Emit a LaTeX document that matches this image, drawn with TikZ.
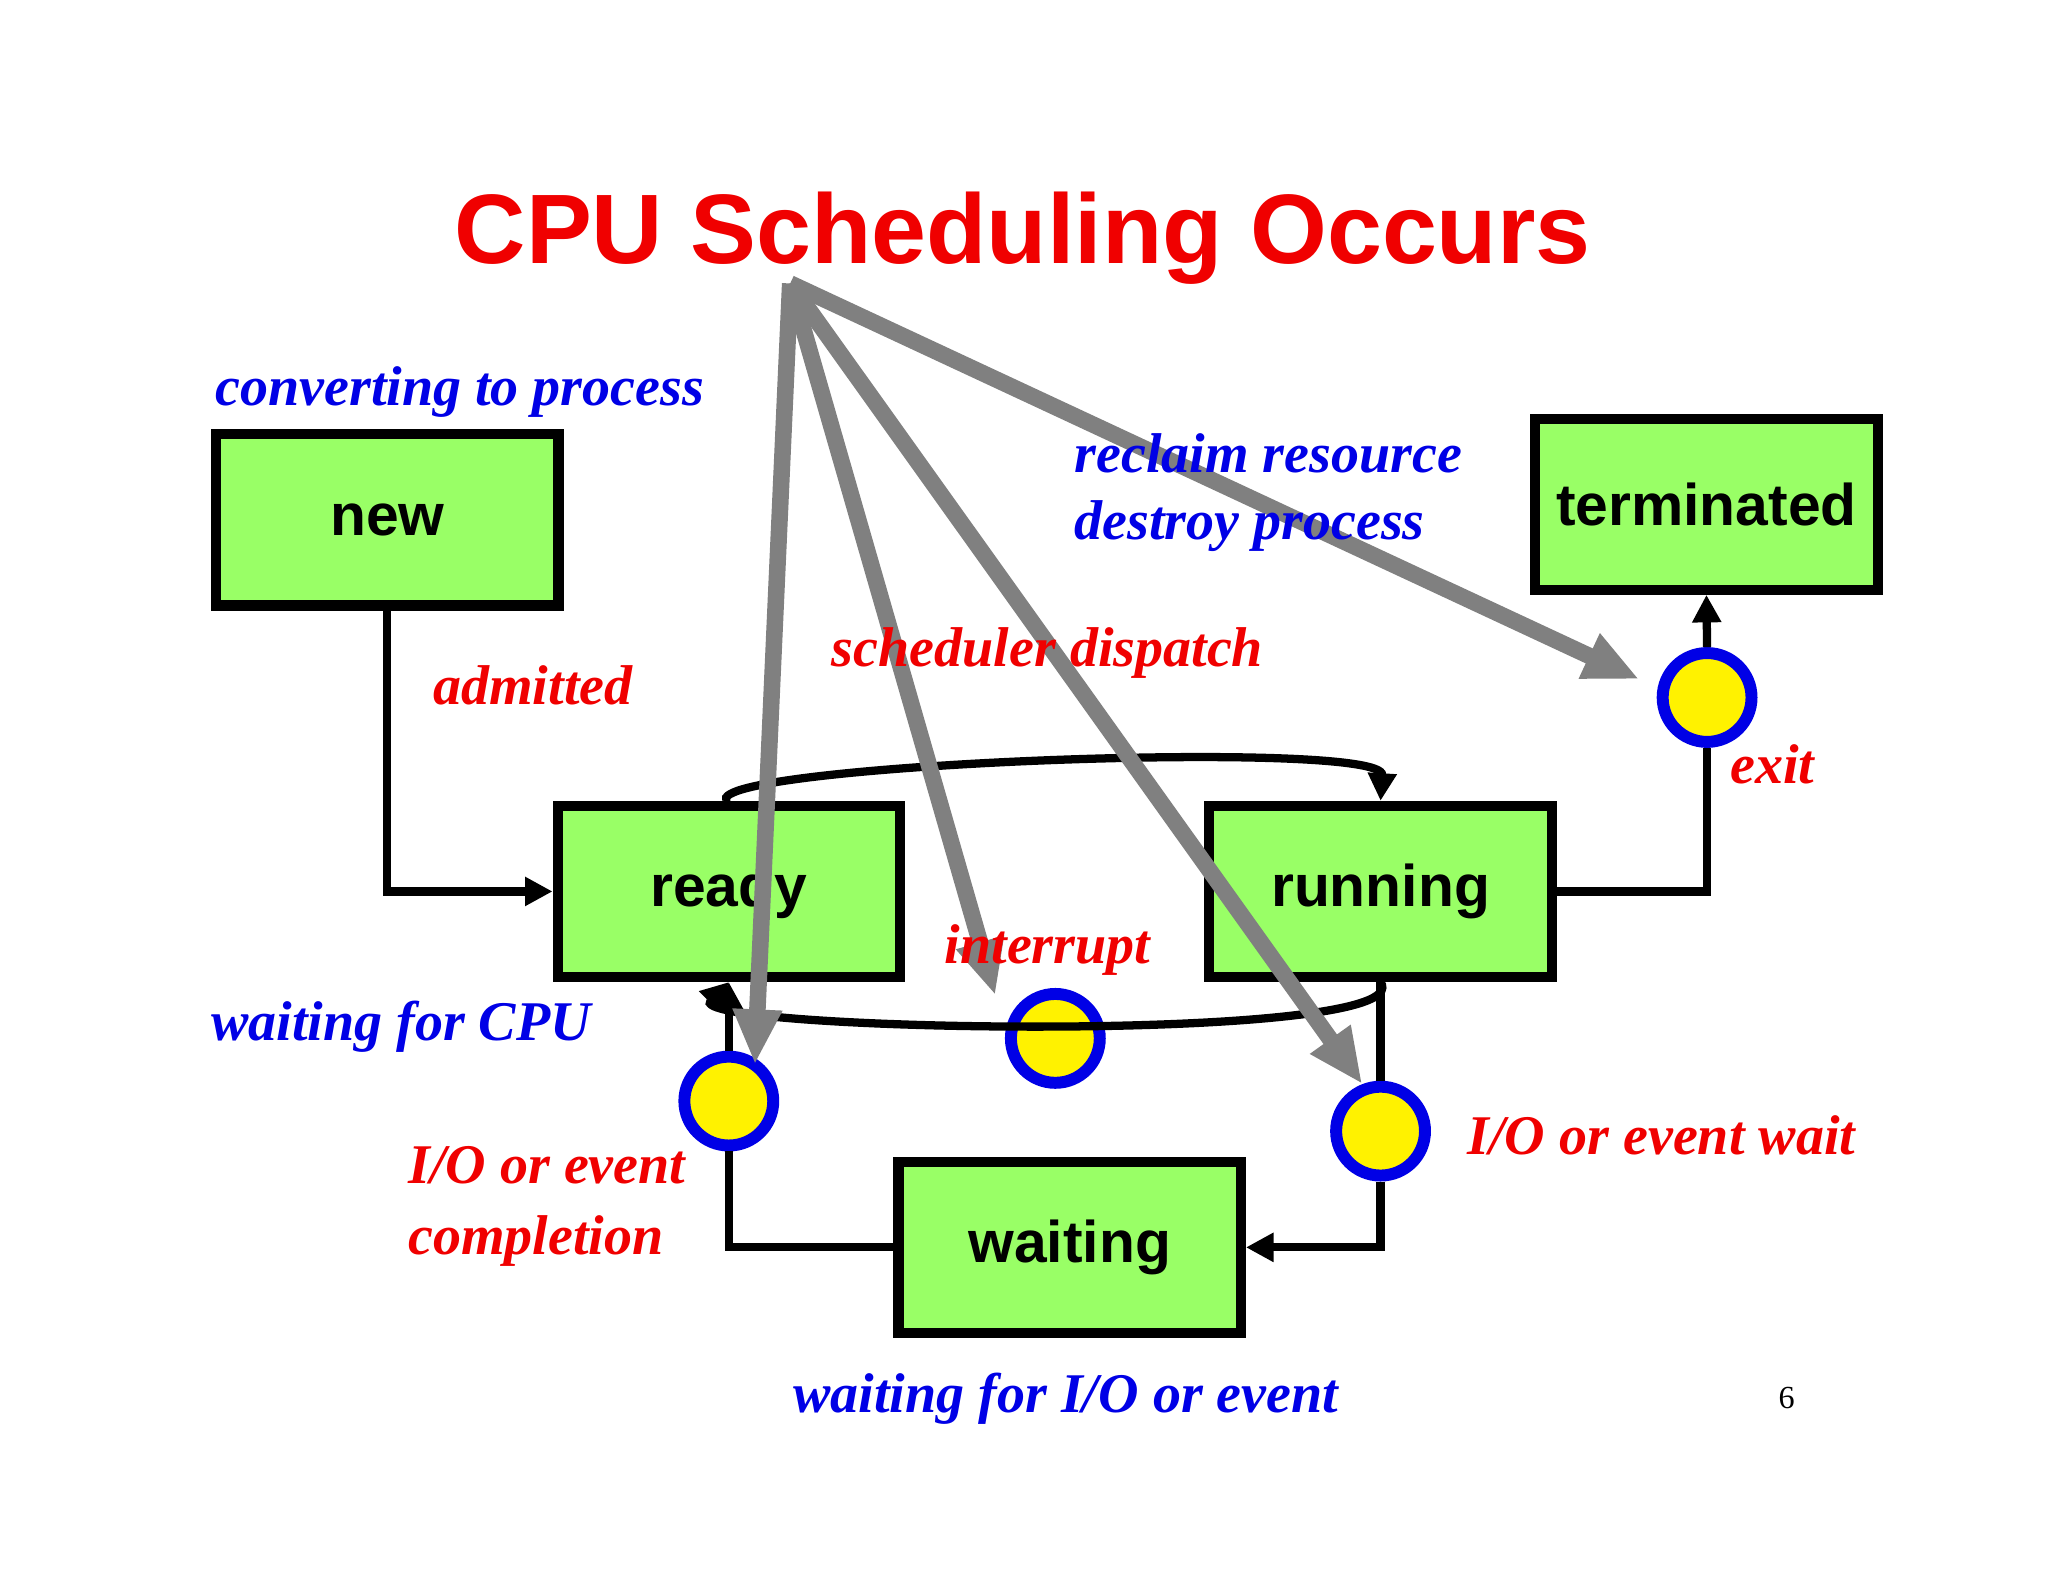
\documentclass[tikz,border=0pt]{standalone}
\usepackage{fontspec}
\setmainfont{Liberation Serif}
\setsansfont{Liberation Sans}
\usetikzlibrary{arrows.meta}
\definecolor{boxgreen}{RGB}{153,255,102}
\definecolor{lblue}{RGB}{0,0,230}
\definecolor{lred}{RGB}{240,0,0}
\begin{document}
\begin{tikzpicture}[x=0.01cm,y=-0.01cm,
  state/.style={draw=black,line width=2.2pt,fill=boxgreen,minimum width=2.62cm,minimum height=1.31cm,font=\sffamily\bfseries\fontsize{12.8}{14}\selectfont,inner sep=0pt},
  dot/.style={circle,draw=lblue,fill=yellow,line width=2.6pt,minimum size=0.68cm,inner sep=0pt},
  conn/.style={line width=1.8pt,-{Triangle[length=6pt,width=6pt]}},
  plain/.style={line width=1.8pt},
  gray arrow/.style={draw=gray,line width=3.6pt,-{Triangle[length=12pt,width=10pt]}},
  bl/.style={text=lblue,font=\bfseries\itshape\fontsize{12.2}{14}\selectfont,inner sep=0pt},
  rl/.style={text=lred,font=\bfseries\itshape\fontsize{12.2}{14}\selectfont,inner sep=0pt}]
\useasboundingbox[fill=white] (0,0) rectangle (1568,1211);
\node[text=lred,font=\sffamily\bfseries\fontsize{21.5}{24}\selectfont] (title) at (783,182) {CPU Scheduling Occurs};
\coordinate (src) at (605,217);
\node[state] (new) at (296.5,398) {new};
\node[state] (term) at (1306.5,386) {terminated};
\node[state] (ready) at (558,682.5) {ready};
\node[state] (run) at (1057,682.5) {running};
\node[state] (wait) at (819,955) {waiting};
\node[dot] (cexit) at (1307,534) {};
\node[dot] (cint) at (808,795) {};
\node[dot] (cio) at (558,843) {};
\node[dot] (cwait) at (1057,866) {};
% connectors
\draw[conn] (new.south) |- (ready.west);
\draw[plain] (run.east) -| (cexit.south);
\draw[conn] (cexit.north) -- (term.south);
\draw[conn] ([xshift=-0.02cm]ready.north) .. controls (540,585) and (1060,565) .. ([xshift=0cm]run.north);
\draw[conn] ([xshift=0cm]run.south) .. controls (1090,800) and (520,790) .. (ready.south);
\draw[plain] (run.south) -- (cwait.north);
\draw[conn] (cwait.south) |- (wait.east);
\draw[plain] (wait.west) -| (cio.south);
\draw[conn] (cio.north) -- (ready.south);
% gray arrows
\draw[gray arrow] (src) -- (578,815);
\draw[gray arrow] (src) -- (762,762);
\draw[gray arrow] (src) -- (1043,830);
\draw[gray arrow] (src) -- (1255,520);
% labels
\node[bl] (l1) at (352,300) {converting to process};
\node[rl] (l2) at (408,525) {admitted};
\node[rl] (l3) at (802,500) {scheduler dispatch};
\node[bl,anchor=west] (l4) at (822,347) {reclaim resource};
\node[bl,anchor=west] (l5) at (822,403) {destroy process};
\node[rl] (l6) at (1357,585) {exit};
\node[rl] (l7) at (802,727) {interrupt};
\node[bl] (l8) at (307,786) {waiting for CPU};
\node[rl] (l9) at (1272,869) {I/O or event wait};
\node[rl,anchor=west] (l10) at (312,892) {I/O or event};
\node[rl,anchor=west] (l11) at (312,950) {completion};
\node[bl] (l12) at (816,1071) {waiting for I/O or event};
\node[font=\fontsize{7}{8}\selectfont] (pg) at (1368,1070) {6};
\end{tikzpicture}
\end{document}
